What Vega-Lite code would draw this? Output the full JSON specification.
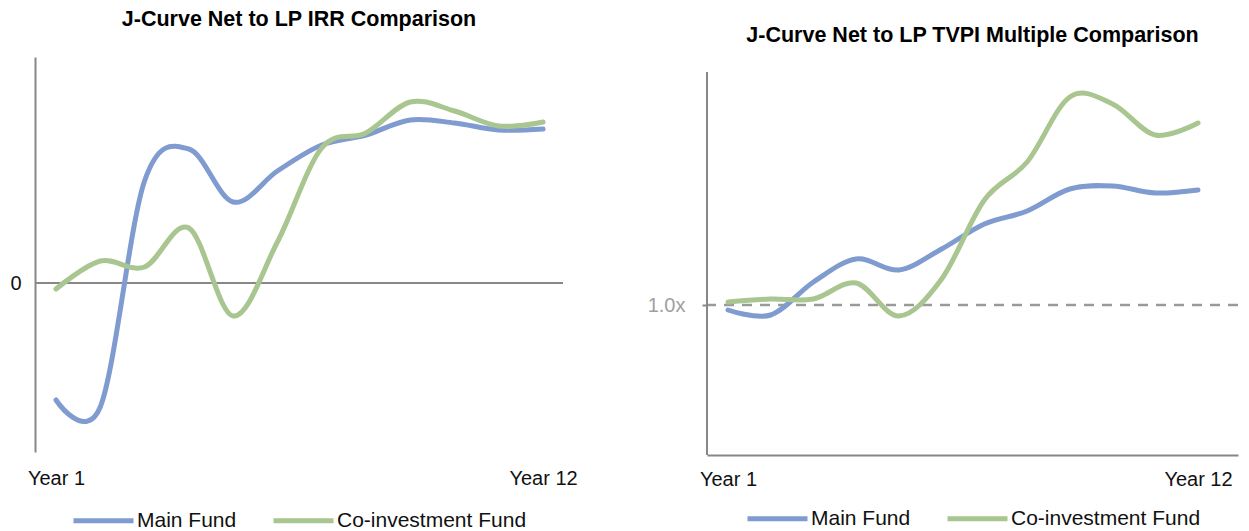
{
  "$schema": "https://vega.github.io/schema/vega-lite/v6.json",
  "padding": {"left": 9, "top": 8, "right": 0, "bottom": 0},
  "autosize": {"type": "pad"},
  "background": "white",
  "config": {
    "font": "Liberation Sans",
    "view": {"stroke": null},
    "title": {"fontSize": 21.5, "fontWeight": "bold", "color": "#000000", "font": "Liberation Sans", "anchor": "middle", "frame": "group"},
    "axis": {"grid": false, "labelFont": "Liberation Sans", "labelFontSize": 20, "labelColor": "#111111", "domainColor": "#878787", "domainWidth": 2, "ticks": false, "title": null, "labelFlush": false, "labelOverlap": false, "labelBound": false},
    "legend": {
      "orient": "bottom", "direction": "horizontal", "title": null,
      "symbolType": "stroke", "symbolStrokeWidth": 5, "symbolSize": 3600,
      "labelFont": "Liberation Sans", "labelFontSize": 21, "labelColor": "#111111", "labelLimit": 400,
      "columnPadding": 26, "labelOffset": 1,
      "layout": {"bottom": {"anchor": "middle"}}
    },
    "concat": {"spacing": 69}
  },
  "datasets": {
    "irr": [
      {"year": 1, "series": "Main Fund", "value": -11.7},
      {"year": 2, "series": "Main Fund", "value": -12.4},
      {"year": 3, "series": "Main Fund", "value": 10.2},
      {"year": 4, "series": "Main Fund", "value": 13.4},
      {"year": 5, "series": "Main Fund", "value": 8.1},
      {"year": 6, "series": "Main Fund", "value": 11.2},
      {"year": 7, "series": "Main Fund", "value": 13.8},
      {"year": 8, "series": "Main Fund", "value": 14.8},
      {"year": 9, "series": "Main Fund", "value": 16.3},
      {"year": 10, "series": "Main Fund", "value": 16.0},
      {"year": 11, "series": "Main Fund", "value": 15.3},
      {"year": 12, "series": "Main Fund", "value": 15.4},
      {"year": 1, "series": "Co-investment Fund", "value": -0.6},
      {"year": 2, "series": "Co-investment Fund", "value": 2.2},
      {"year": 3, "series": "Co-investment Fund", "value": 1.6},
      {"year": 4, "series": "Co-investment Fund", "value": 5.5},
      {"year": 5, "series": "Co-investment Fund", "value": -3.3},
      {"year": 6, "series": "Co-investment Fund", "value": 4.1},
      {"year": 7, "series": "Co-investment Fund", "value": 13.5},
      {"year": 8, "series": "Co-investment Fund", "value": 15.0},
      {"year": 9, "series": "Co-investment Fund", "value": 18.1},
      {"year": 10, "series": "Co-investment Fund", "value": 17.2},
      {"year": 11, "series": "Co-investment Fund", "value": 15.7},
      {"year": 12, "series": "Co-investment Fund", "value": 16.1}
    ],
    "tvpi": [
      {"year": 1, "series": "Main Fund", "value": 0.975},
      {"year": 2, "series": "Main Fund", "value": 0.95},
      {"year": 3, "series": "Main Fund", "value": 1.115},
      {"year": 4, "series": "Main Fund", "value": 1.23},
      {"year": 5, "series": "Main Fund", "value": 1.175},
      {"year": 6, "series": "Main Fund", "value": 1.28},
      {"year": 7, "series": "Main Fund", "value": 1.405},
      {"year": 8, "series": "Main Fund", "value": 1.47},
      {"year": 9, "series": "Main Fund", "value": 1.58},
      {"year": 10, "series": "Main Fund", "value": 1.595},
      {"year": 11, "series": "Main Fund", "value": 1.56},
      {"year": 12, "series": "Main Fund", "value": 1.575},
      {"year": 1, "series": "Co-investment Fund", "value": 1.015},
      {"year": 2, "series": "Co-investment Fund", "value": 1.03},
      {"year": 3, "series": "Co-investment Fund", "value": 1.03},
      {"year": 4, "series": "Co-investment Fund", "value": 1.11},
      {"year": 5, "series": "Co-investment Fund", "value": 0.945},
      {"year": 6, "series": "Co-investment Fund", "value": 1.13},
      {"year": 7, "series": "Co-investment Fund", "value": 1.525},
      {"year": 8, "series": "Co-investment Fund", "value": 1.715},
      {"year": 9, "series": "Co-investment Fund", "value": 2.04},
      {"year": 10, "series": "Co-investment Fund", "value": 2.005},
      {"year": 11, "series": "Co-investment Fund", "value": 1.85},
      {"year": 12, "series": "Co-investment Fund", "value": 1.91}
    ],
    "zero": [{"value": 0}],
    "one": [{"value": 1}],
    "yaxis": [{"year": 0.5085, "value": 0.25, "value2": 2.165}]
  },
  "hconcat": [
    {
      "width": 528,
      "height": 395,
      "title": {"text": "J-Curve Net to LP IRR Comparison", "offset": 27},
      "layer": [
        {
          "data": {"name": "zero"},
          "mark": {"type": "rule", "color": "#878787", "strokeWidth": 2},
          "encoding": {"y": {"field": "value", "type": "quantitative", "scale": {"domain": [-16.9, 22.6], "nice": false, "zero": false}}}
        },
        {
          "data": {"name": "irr"},
          "mark": {"type": "line", "interpolate": "cardinal", "strokeWidth": 5, "strokeCap": "round", "strokeJoin": "round"},
          "encoding": {
            "x": {"field": "year", "type": "quantitative", "scale": {"domain": [0.526, 12.45], "nice": false, "zero": false},
                  "axis": {"values": [1, 12], "domain": false, "labelExpr": "datum.value == 1 ? 'Year 1' : 'Year 12'", "labelPadding": 16}},
            "y": {"field": "value", "type": "quantitative", "scale": {"domain": [-16.9, 22.6], "nice": false, "zero": false},
                  "axis": {"values": [0], "labelExpr": "'0'", "labelPadding": 14}},
            "color": {"field": "series", "type": "nominal", "sort": ["Main Fund", "Co-investment Fund"],
                      "scale": {"domain": ["Main Fund", "Co-investment Fund"], "range": ["#7F9BCF", "#A9C590"]},
                      "legend": {"offset": 0}}
          }
        }
      ]
    },
    {
      "width": 531,
      "height": 398,
      "title": {"text": "J-Curve Net to LP TVPI Multiple Comparison", "offset": 11},
      "layer": [
        {
          "data": {"name": "one"},
          "mark": {"type": "rule", "color": "#9A9A9A", "strokeWidth": 2.5, "strokeDash": [10, 8]},
          "encoding": {"y": {"field": "value", "type": "quantitative", "scale": {"domain": [0.25, 2.24], "nice": false, "zero": false}}}
        },
        {
          "data": {"name": "yaxis"},
          "mark": {"type": "rule", "color": "#878787", "strokeWidth": 2},
          "encoding": {
            "x": {"field": "year", "type": "quantitative"},
            "y": {"field": "value", "type": "quantitative"},
            "y2": {"field": "value2"}
          }
        },
        {
          "data": {"name": "tvpi"},
          "mark": {"type": "line", "interpolate": "cardinal", "strokeWidth": 5, "strokeCap": "round", "strokeJoin": "round"},
          "encoding": {
            "x": {"field": "year", "type": "quantitative", "scale": {"domain": [0.5085, 12.936], "nice": false, "zero": false},
                  "axis": {"values": [1, 12], "domain": true, "labelExpr": "datum.value == 1 ? 'Year 1' : 'Year 12'", "labelPadding": 14}},
            "y": {"field": "value", "type": "quantitative", "scale": {"domain": [0.25, 2.24], "nice": false, "zero": false},
                  "axis": {"values": [1], "domain": false, "labelExpr": "'1.0x'", "labelColor": "#A0A0A0", "ticks": true, "tickSize": 5, "tickColor": "#878787", "tickWidth": 2, "labelPadding": 17}},
            "color": {"field": "series", "type": "nominal", "sort": ["Main Fund", "Co-investment Fund"],
                      "scale": {"domain": ["Main Fund", "Co-investment Fund"], "range": ["#7F9BCF", "#A9C590"]},
                      "legend": {"offset": -3}}
          }
        }
      ]
    }
  ],
  "resolve": {"scale": {"x": "independent", "y": "independent", "color": "independent"}, "legend": {"color": "independent"}}
}
